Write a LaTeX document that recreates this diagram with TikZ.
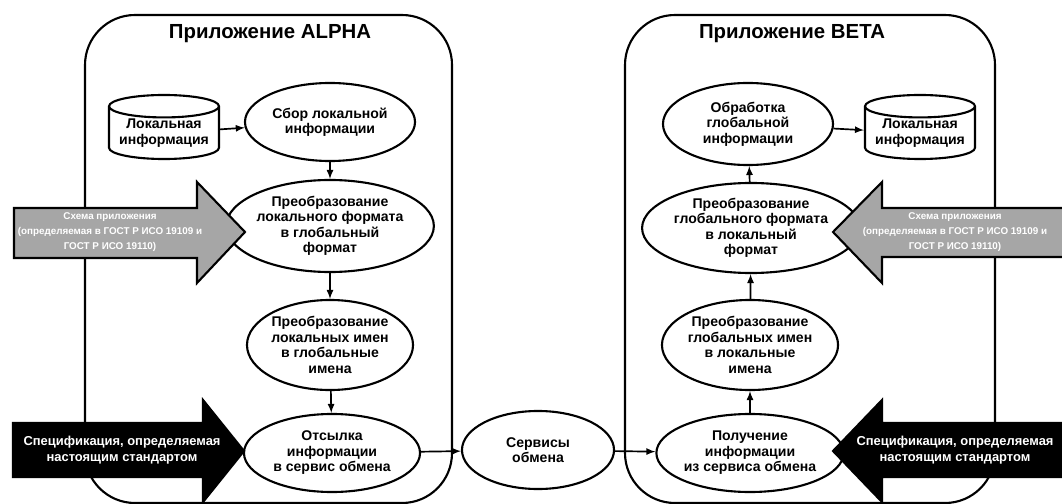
\documentclass[tikz,border=0pt]{standalone}
\usepackage{fontspec}
\setmainfont{Liberation Sans}
\usetikzlibrary{shapes.geometric}

\begin{document}
\begin{tikzpicture}[x=0.025cm,y=-0.025cm,
    proc/.style={draw,ellipse,line width=1.5pt,fill=white,inner sep=0pt,align=center,
        font=\bfseries\fontsize{10}{11}\selectfont},
    store/.style={draw,cylinder,shape border rotate=90,aspect=0.25,line width=1.5pt,fill=white,
        inner sep=0pt,align=center,anchor=shape center,font=\bfseries\fontsize{10}{11}\selectfont},
    app/.style={line width=1.5pt,rounded corners=1.25cm},
    flow/.style={->,>=latex,line width=1.2pt},
    fatarrow/.style={draw,line width=1.5pt,line join=miter},
    fattext/.style={align=center,text=white,inner sep=0pt}]
    \useasboundingbox (0,0) rectangle (1062,504);
    \draw[app] (85,15) rectangle (452,503);
    \draw[app] (625,15) rectangle (995,503);
    \node[font=\bfseries\fontsize{14.5}{16}\selectfont] (titleA) at (270,34) {Приложение ALPHA};
    \node[font=\bfseries\fontsize{14.5}{16}\selectfont] (titleB) at (792,34) {Приложение BETA};

    \node[store,minimum width=2.75cm,minimum height=1.6cm] (localA) at (164,127) {Локальная\\информация};
    \node[proc,minimum width=4.25cm,minimum height=1.95cm] (collect) at (330,122) {Сбор локальной\\информации};
    \node[proc,minimum width=4.3cm,minimum height=2.3cm] (fmtA) at (330,226) {Преобразование\\локального формата\\в глобальный\\формат};
    \node[proc,minimum width=4.15cm,minimum height=2.25cm] (namesA) at (330,345) {Преобразование\\локальных имен\\в глобальные\\имена};
    \node[proc,minimum width=4.4cm,minimum height=1.95cm] (send) at (332,453) {Отсылка\\информации\\в сервис обмена};
    \node[proc,minimum width=3.8cm,minimum height=1.95cm] (xchg) at (538,450) {Сервисы\\обмена};
    \node[proc,minimum width=4.4cm,minimum height=1.95cm] (recv) at (750,453) {Получение\\информации\\из сервиса обмена};
    \node[proc,minimum width=4.15cm,minimum height=2.25cm] (namesB) at (750,345) {Преобразование\\глобальных имен\\в локальные\\имена};
    \node[proc,minimum width=4.4cm,minimum height=2.25cm] (fmtB) at (751,228) {Преобразование\\глобального формата\\в локальный\\формат};
    \node[proc,minimum width=4.25cm,minimum height=2.05cm] (process) at (748,124) {Обработка\\глобальной\\информации};
    \node[store,minimum width=2.75cm,minimum height=1.6cm] (localB) at (920,127) {Локальная\\информация};

    \draw[flow] (localA) -- (collect);
    \draw[flow] (collect) -- (fmtA);
    \draw[flow] (fmtA) -- (namesA);
    \draw[flow] (namesA) -- (send);
    \draw[flow] (send) -- (xchg);
    \draw[flow] (xchg) -- (recv);
    \draw[flow] (recv) -- (namesB);
    \draw[flow] (namesB) -- (fmtB);
    \draw[flow] (fmtB) -- (process);
    \draw[flow] (process) -- (localB);

    \draw[fatarrow,fill=black!35] (14,208) -- (197,208) -- (197,182) -- (245,232) -- (197,283) -- (197,258) -- (14,258) -- cycle;
    \node[fattext,font=\bfseries\fontsize{7}{10.5}\selectfont] (specA) at (110,232) {Схема приложения\\(определяемая в ГОСТ Р ИСО 19109 и\\ГОСТ Р ИСО 19110)};
    \draw[fatarrow,fill=black!35] (1070,208) -- (882,208) -- (882,182) -- (833,232) -- (882,283) -- (882,257) -- (1070,257) -- cycle;
    \node[fattext,font=\bfseries\fontsize{7}{10.5}\selectfont] (specB) at (955,232) {Схема приложения\\(определяемая в ГОСТ Р ИСО 19109 и\\ГОСТ Р ИСО 19110)};

    \draw[fatarrow,fill=black] (13,423) -- (203,423) -- (203,400) -- (244,451) -- (203,502) -- (203,477) -- (13,477) -- cycle;
    \node[fattext,font=\bfseries\fontsize{9.2}{11.5}\selectfont] (stdA) at (122,450) {Спецификация, определяемая\\настоящим стандартом};
    \draw[fatarrow,fill=black] (1070,423) -- (882,423) -- (882,400) -- (833,451) -- (882,502) -- (882,477) -- (1070,477) -- cycle;
    \node[fattext,font=\bfseries\fontsize{9.2}{11.5}\selectfont] (stdB) at (955,450) {Спецификация, определяемая\\настоящим стандартом};
\end{tikzpicture}
\end{document}
